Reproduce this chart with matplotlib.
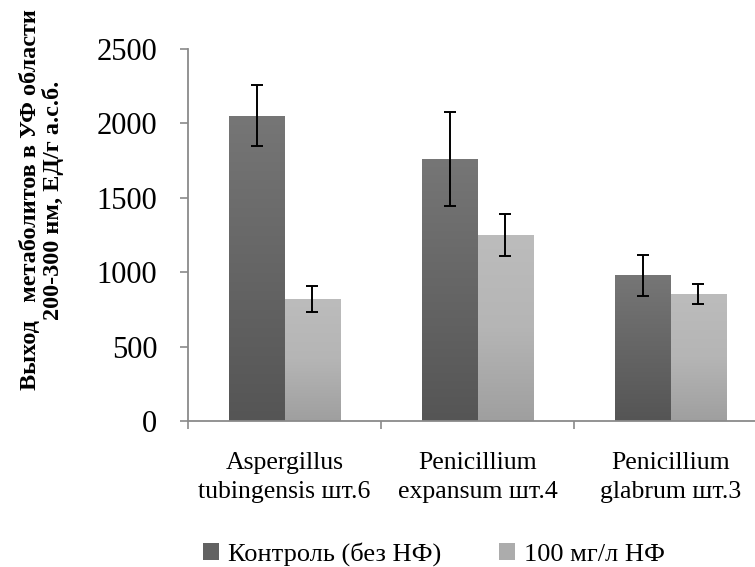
import numpy as np
import matplotlib
matplotlib.use("Agg")
import matplotlib.pyplot as plt
from matplotlib.colors import LinearSegmentedColormap
from matplotlib.patches import Patch

# Data
categories = ["Aspergillus\ntubingensis шт.6", "Penicillium\nexpansum шт.4", "Penicillium\nglabrum шт.3"]
series_names = ["Контроль (без НФ)", "100 мг/л НФ"]
control = [2050, 1760, 980]
control_err = [205, 317, 137]
treated = [820, 1250, 853]
treated_err = [90, 141, 65]
y_ticks = [0, 500, 1000, 1500, 2000, 2500]
ylabel_text = "Выход   метаболитов в УФ области\n200-300 нм, ЕД/г а.с.б."

plt.rcParams["font.family"] = ["Liberation Serif", "DejaVu Serif"]

fig = plt.figure(figsize=(7.55, 5.67), dpi=100)
ax = fig.add_axes([188 / 755, 1 - 421 / 567, (767 - 188) / 755, (421 - 49) / 567])

axis_color = "#8a8a8a"
width = 0.2865
x = np.arange(len(categories)) + 0.5

dark_cmap = LinearSegmentedColormap.from_list("dark", ["#555555", "#767676"])
light_cmap = LinearSegmentedColormap.from_list("light", ["#9f9f9f", "#b5b5b5", "#bcbcbc"])


def gradient_bars(xpos, values, cmap, label):
    bars = ax.bar(xpos, values, width, color="none", edgecolor="none", label=label, zorder=2)
    grad = np.linspace(0, 1, 256).reshape(-1, 1)
    for b in bars:
        x0, y0 = b.get_x(), b.get_y()
        w, h = b.get_width(), b.get_height()
        im = ax.imshow(grad, cmap=cmap, aspect="auto", origin="lower",
                       extent=[x0, x0 + w, y0, y0 + h], zorder=2)
        im.set_clip_path(b)
    return bars


gradient_bars(x - width / 2, control, dark_cmap, series_names[0])
gradient_bars(x + width / 2, treated, light_cmap, series_names[1])

ax.errorbar(x - width / 2, control, yerr=control_err, fmt="none", ecolor="black",
            elinewidth=1.4, capsize=4.5, capthick=1.4, zorder=3)
ax.errorbar(x + width / 2, treated, yerr=treated_err, fmt="none", ecolor="black",
            elinewidth=1.4, capsize=4.5, capthick=1.4, zorder=3)

ax.set_xlim(0, 3)
ax.set_ylim(0, 2500)
ax.set_yticks(y_ticks)
ax.set_yticklabels([str(v) for v in y_ticks], fontsize=22)
ax.set_xticks([0, 1, 2, 3])
ax.set_xticklabels([])
ax.set_xticks(x, minor=True)
ax.set_xticklabels(categories, minor=True, fontsize=18.5, linespacing=1.42)
ax.tick_params(axis="x", which="minor", length=0, pad=22)
ax.tick_params(axis="x", which="major", length=6, width=1.2, color=axis_color, direction="out")
ax.tick_params(axis="y", length=6, width=1.2, color=axis_color, direction="out", pad=16)

for s in ["top", "right"]:
    ax.spines[s].set_visible(False)
for s in ["left", "bottom"]:
    ax.spines[s].set_color(axis_color)
    ax.spines[s].set_linewidth(1.3)

fig.text(42 / 755, 1 - 200 / 567, ylabel_text, rotation=90, ha="center", va="center",
         multialignment="center", fontsize=17.5, fontweight="bold", linespacing=1.0)

handles = [Patch(facecolor="#626262", edgecolor="none"), Patch(facecolor="#acacac", edgecolor="none")]
fig.legend(handles, series_names, loc="center", bbox_to_anchor=(434 / 755, 1 - 554 / 567),
           ncol=2, frameon=False, fontsize=19, handlelength=0.6, handleheight=0.6,
           handletextpad=0.35, columnspacing=2.2, borderaxespad=0)

fig.savefig("out.png", dpi=100)
